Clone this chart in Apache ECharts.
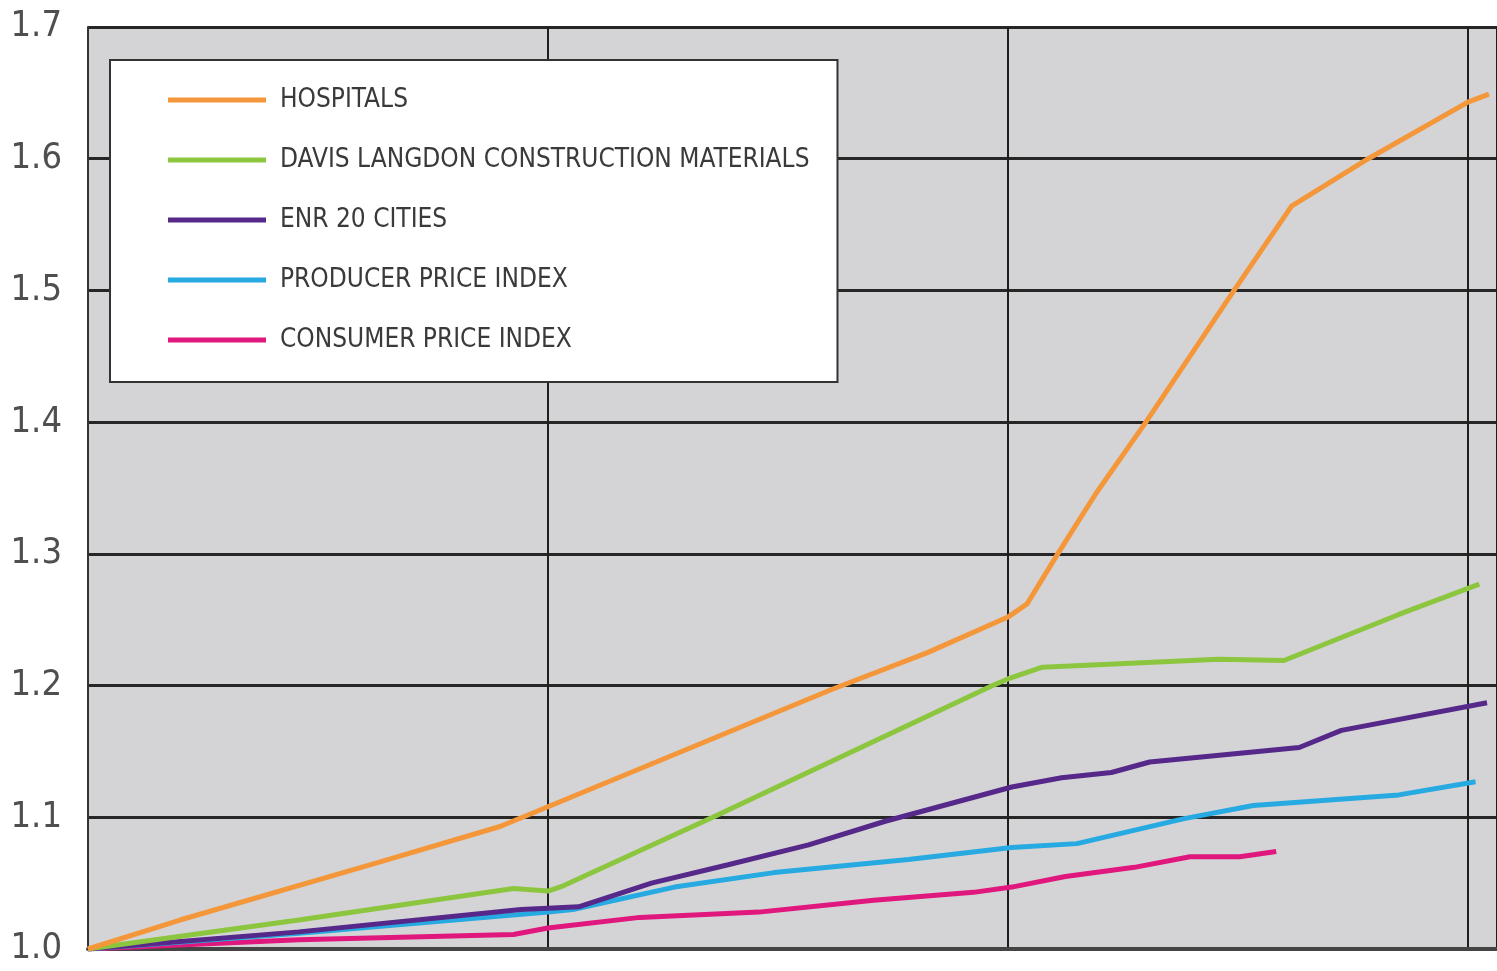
<!DOCTYPE html>
<html>
<head>
<meta charset="utf-8">
<script src="https://cdn.jsdelivr.net/npm/echarts@6/dist/echarts.min.js"></script>
<style>html,body{margin:0;padding:0;background:#fff;}#c{width:1497px;height:971px;}</style>
</head>
<body>
<div id="c"></div>
<script>
// x = months from start, y = cost index (1.0 = base)
const seriesNames = ['HOSPITALS', 'DAVIS LANGDON CONSTRUCTION MATERIALS', 'ENR 20 CITIES', 'PRODUCER PRICE INDEX', 'CONSUMER PRICE INDEX'];
const hospitals = [[0,1.000],[2.4,1.022],[7.6,1.066],[10.75,1.093],[12.0,1.108],[19.4,1.197],[21.9,1.225],[24.0,1.252],[24.5,1.262],[25.3,1.300],[26.3,1.346],[27.6,1.400],[29.9,1.500],[31.4,1.564],[33.4,1.600],[36.0,1.643],[36.55,1.649]];
const davisLangdon = [[0,1.000],[5.5,1.022],[11.1,1.046],[12.0,1.044],[12.4,1.048],[16.3,1.100],[23.6,1.200],[24.0,1.205],[24.9,1.214],[29.5,1.220],[31.2,1.219],[34.2,1.254],[36.3,1.277]];
const enr20 = [[0,1.000],[5.5,1.013],[11.3,1.030],[12.0,1.031],[12.8,1.032],[14.7,1.050],[16.7,1.064],[18.8,1.079],[20.8,1.097],[24.1,1.123],[25.4,1.130],[26.7,1.134],[27.7,1.142],[31.6,1.153],[32.7,1.166],[36.5,1.187]];
const ppi = [[0,1.000],[5.5,1.012],[12.0,1.028],[12.65,1.030],[15.3,1.047],[17.9,1.058],[21.4,1.068],[24.1,1.077],[25.8,1.080],[28.6,1.099],[30.4,1.109],[34.2,1.117],[36.2,1.127]];
const cpi = [[0,1.000],[5.5,1.007],[11.1,1.011],[12.0,1.016],[14.4,1.024],[17.5,1.028],[20.5,1.037],[23.1,1.043],[24.1,1.047],[25.5,1.055],[27.3,1.062],[28.75,1.070],[30.05,1.070],[31.0,1.074]];
const yTicks = [1.0, 1.1, 1.2, 1.3, 1.4, 1.5, 1.6, 1.7];

const colors = ['#f4973a', '#8cc63f', '#55288a', '#27aae1', '#e0177d'];
const datasets = [hospitals, davisLangdon, enr20, ppi, cpi];
const FONT = "'DejaVu Sans Condensed', Roboto, 'Liberation Sans', sans-serif";

const chart = echarts.init(document.getElementById('c'));
chart.setOption({
  animation: false,
  color: colors,
  grid: {left: 88, top: 27, right: 0, bottom: 22, show: true, backgroundColor: '#d4d4d6', borderWidth: 0},
  legend: {
    orient: 'vertical',
    left: 110, top: 60,
    padding: [24, 28, 26, 58],
    itemGap: 28,
    itemWidth: 98, itemHeight: 5,
    icon: 'rect',
    backgroundColor: '#ffffff',
    borderColor: '#333333',
    borderWidth: 2,
    textStyle: {fontFamily: FONT, fontSize: 26, color: '#3a3a3a', width: 500, padding: [0,0,0,9], overflow: 'none', lineHeight: 32},
    data: seriesNames
  },
  xAxis: {
    type: 'value', min: 0, max: 36.76, interval: 12,
    axisLine: {show: true, lineStyle: {color: '#444', width: 4}},
    axisTick: {show: false}, axisLabel: {show: false},
    splitLine: {show: true, lineStyle: {color: '#1e1e1e', width: 2}}
  },
  yAxis: {
    type: 'value', min: 1.0, max: 1.7, interval: 0.1,
    axisLine: {show: true, lineStyle: {color: '#333', width: 2}},
    axisTick: {show: false},
    axisLabel: {margin: 26, fontFamily: FONT, fontSize: 36, color: '#4f4f4f',
      formatter: v => { const t = yTicks.find(k => Math.abs(k - v) < 1e-6); return t !== undefined ? t.toFixed(1) : ''; }},
    splitLine: {show: true, lineStyle: {color: '#262626', width: 3}}
  },
  series: seriesNames.map((n, i) => ({
    name: n, type: 'line', data: datasets[i], showSymbol: false, symbol: 'none',
    lineStyle: {width: 5, color: colors[i]}, itemStyle: {color: colors[i]}, z: 10 - i
  }))
});
</script>
</body>
</html>
